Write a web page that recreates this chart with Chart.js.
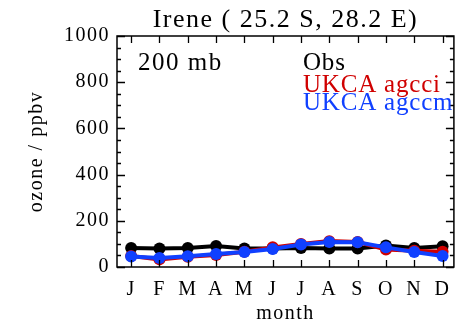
<!DOCTYPE html>
<html>
<head>
<meta charset="utf-8">
<script src="https://cdn.jsdelivr.net/npm/chart.js@4/dist/chart.umd.min.js"></script>
<style>
  html, body { margin: 0; padding: 0; background: #fff; }
  #wrap { width: 461px; height: 326px; position: relative; }
</style>
</head>
<body>
<div id="wrap"><canvas id="c" width="461" height="326"></canvas></div>
<script>
// Monthly ozone at 200 mb, Irene station
const monthLabels = ['J', 'F', 'M', 'A', 'M', 'J', 'J', 'A', 'S', 'O', 'N', 'D'];
const monthNumbers = [1, 2, 3, 4, 5, 6, 7, 8, 9, 10, 11, 12];
const obsValues = [82, 80, 82, 91, 80, 80, 82, 80, 80, 93, 82, 90];
const agcciValues = [48, 33, 44, 52, 66, 85, 100, 112, 108, 76, 70, 66];
const agccmValues = [45, 39, 47, 56, 65, 78, 97, 108, 107, 85, 65, 48];
const yTickValues = [0, 200, 400, 600, 800, 1000];
const yMinorStep = 50;

const titleText = 'Irene ( 25.2 S, 28.2 E)';
const levelText = '200 mb';
const seriesNames = ['Obs', 'UKCA agcci', 'UKCA agccm'];
const seriesColors = ['#000000', '#d00000', '#1040ff'];

const FONT = '"Liberation Serif", "Times New Roman", serif';

function series(values) {
  return values.map((v, i) => ({ x: monthNumbers[i], y: v }));
}

function lineSet(label, values, color, order) {
  return {
    label,
    data: series(values),
    borderColor: color,
    backgroundColor: color,
    borderWidth: 4,
    pointRadius: 6,
    pointHoverRadius: 6,
    pointBorderWidth: 0,
    pointBackgroundColor: color,
    tension: 0,
    order
  };
}

// Frame, inward tick marks on all four sides, and the text annotations
const framePlugin = {
  id: 'frame',
  beforeDraw(chart) {
    chart.ctx.letterSpacing = '1.5px';
  },
  afterDraw(chart) {
    const { ctx, chartArea: a, scales } = chart;
    const xs = scales.x, ys = scales.y;
    ctx.save();
    ctx.strokeStyle = '#000';
    ctx.lineWidth = 1.5;
    ctx.strokeRect(a.left, a.top, a.right - a.left, a.bottom - a.top);

    ctx.lineWidth = 1.3;
    ctx.beginPath();
    // y: minor ticks every 50, major at labelled values
    for (let v = 0; v <= 1000; v += yMinorStep) {
      const py = Math.round(ys.getPixelForValue(v)) + 0.5;
      const len = yTickValues.includes(v) ? 8 : 4;
      ctx.moveTo(a.left, py); ctx.lineTo(a.left + len, py);
      ctx.moveTo(a.right, py); ctx.lineTo(a.right - len, py);
    }
    // x: one tick per month
    monthNumbers.forEach(m => {
      const px = Math.round(xs.getPixelForValue(m)) + 0.5;
      ctx.moveTo(px, a.bottom); ctx.lineTo(px, a.bottom - 7);
      ctx.moveTo(px, a.top); ctx.lineTo(px, a.top + 7);
    });
    ctx.stroke();

    ctx.letterSpacing = '1.5px';
    ctx.textBaseline = 'alphabetic';
    ctx.textAlign = 'center';
    ctx.fillStyle = '#000';
    ctx.font = '26px ' + FONT;
    ctx.fillText(titleText, (a.left + a.right) / 2, 27);

    ctx.textAlign = 'left';
    ctx.font = '25px ' + FONT;
    ctx.fillText(levelText, a.left + 21, a.top + 34);

    ctx.letterSpacing = '0.8px';
    const lx = a.left + 186;
    const baselines = [a.top + 34, a.top + 56, a.top + 74];
    seriesNames.forEach((name, i) => {
      ctx.fillStyle = seriesColors[i];
      ctx.font = '25px ' + FONT;
      ctx.fillText(name, lx, baselines[i]);
    });
    ctx.restore();
  }
};

const chart = new Chart(document.getElementById('c'), {
  type: 'line',
  data: {
    datasets: [
      lineSet(seriesNames[2], agccmValues, seriesColors[2], 1),
      lineSet(seriesNames[1], agcciValues, seriesColors[1], 2),
      lineSet(seriesNames[0], obsValues, seriesColors[0], 3)
    ]
  },
  options: {
    responsive: false,
    animation: false,
    devicePixelRatio: 1,
    layout: { padding: { top: 36, right: 5, left: 0, bottom: 0 } },
    plugins: {
      legend: { display: false },
      title: { display: false },
      tooltip: { enabled: false }
    },
    scales: {
      x: {
        type: 'linear',
        min: 0.5,
        max: 12.4,
        grid: { display: false, drawTicks: false },
        border: { display: false },
        afterBuildTicks(scale) {
          scale.ticks = monthNumbers.map(v => ({ value: v }));
        },
        afterFit(scale) { scale.height = 59; },
        ticks: {
          autoSkip: false,
          maxRotation: 0,
          padding: 11,
          color: '#000',
          font: { family: FONT, size: 20 },
          callback: v => monthLabels[v - 1]
        },
        title: {
          display: true,
          text: 'month',
          color: '#000',
          font: { family: FONT, size: 20 },
          padding: { top: 0, bottom: 0 }
        }
      },
      y: {
        type: 'linear',
        min: 0,
        max: 1000,
        grid: { display: false, drawTicks: false },
        border: { display: false },
        afterBuildTicks(scale) {
          scale.ticks = yTickValues.map(v => ({ value: v }));
        },
        afterFit(scale) { scale.width = 117; },
        ticks: {
          padding: 7,
          color: '#000',
          font: { family: FONT, size: 20 },
          callback: v => String(v)
        },
        title: {
          display: true,
          text: 'ozone / ppbv',
          color: '#000',
          font: { family: FONT, size: 20 },
          padding: { top: 25, bottom: 0 }
        }
      }
    }
  },
  plugins: [framePlugin]
});
</script>
</body>
</html>
